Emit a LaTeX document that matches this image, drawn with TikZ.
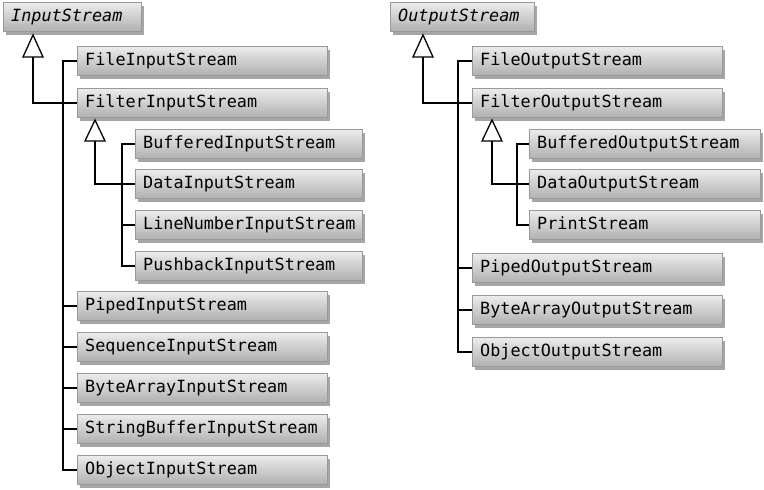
\documentclass[tikz,border=0pt]{standalone}
\usepackage{fontspec}
\setmonofont{DejaVu Sans Mono}
\usetikzlibrary{shadows}
\begin{document}
\begin{tikzpicture}[x=1pt,y=-1pt,
  cls/.style={draw=gray!80, top color=gray!15, bottom color=gray!62,
    minimum height=29pt, inner xsep=8pt, inner ysep=0pt, anchor=west, align=left,
    font=\ttfamily\fontsize{16.8}{18}\selectfont, text height=12pt, text depth=3pt,
    drop shadow={shadow xshift=3pt, shadow yshift=-3.5pt, fill=gray!70, opacity=1}},
  absw/.style={font=\ttfamily\itshape\fontsize{16.8}{18}\selectfont},
  wout/.style={text width=234pt},
  winI/.style={text width=211pt},
  winO/.style={text width=215pt},
  link/.style={line width=1.3pt},
  tri/.style={line width=1.3pt, fill=white, line join=miter}
]
\fill[white] (0,0) rectangle (764,490);
\useasboundingbox (0,0) rectangle (764,490);

% ---------- Input side ----------
\node[cls,absw,text width=122pt] (IS) at (3,17) {InputStream};
\node[cls,wout] (fileI)   at (77,61)  {FileInputStream};
\node[cls,wout] (filterI) at (77,103) {FilterInputStream};
\node[cls,winI] (bufI)    at (135,144) {BufferedInputStream};
\node[cls,winI] (dataI)   at (135,184) {DataInputStream};
\node[cls,winI] (lineI)   at (135,225) {LineNumberInputStream};
\node[cls,winI] (pushI)   at (135,266) {PushbackInputStream};
\node[cls,wout] (pipedI)  at (77,306) {PipedInputStream};
\node[cls,wout] (seqI)    at (77,347) {SequenceInputStream};
\node[cls,wout] (byteI)   at (77,388) {ByteArrayInputStream};
\node[cls,wout] (sbI)     at (77,429) {StringBufferInputStream};
\node[cls,wout] (objI)    at (77,470) {ObjectInputStream};

\coordinate (vI) at (63,0);
\coordinate (vIi) at (122,0);
\coordinate (tipI) at (33,35);
\coordinate (baseI) at (33,57);
\coordinate (tipIi) at (95,120);
\coordinate (baseIi) at (95,141);

\draw[link] (fileI.west) -| (vI |- objI.west) -- (objI.west);
\foreach \n in {pipedI,seqI,byteI,sbI} \draw[link] (\n.west -| vI) -- (\n.west);
\draw[link] (baseI) |- (filterI.west);
\draw[tri] (tipI) -- ++(-10,22) -- ++(20,0) -- cycle;

\draw[link] (bufI.west) -| (vIi |- pushI.west) -- (pushI.west);
\draw[link] (lineI.west -| vIi) -- (lineI.west);
\draw[link] (baseIi) |- (dataI.west);
\draw[tri] (tipIi) -- ++(-10,21) -- ++(20,0) -- cycle;

% ---------- Output side ----------
\node[cls,absw,text width=128pt] (OS) at (390,17) {OutputStream};
\node[cls,wout] (fileO)   at (472,61)  {FileOutputStream};
\node[cls,wout] (filterO) at (472,103) {FilterOutputStream};
\node[cls,winO] (bufO)    at (529,144) {BufferedOutputStream};
\node[cls,winO] (dataO)   at (529,184) {DataOutputStream};
\node[cls,winO] (printO)  at (529,225) {PrintStream};
\node[cls,wout] (pipedO)  at (472,268) {PipedOutputStream};
\node[cls,wout] (byteO)   at (472,310) {ByteArrayOutputStream};
\node[cls,wout] (objO)    at (472,352) {ObjectOutputStream};

\coordinate (vO) at (458,0);
\coordinate (vOi) at (517,0);
\coordinate (tipO) at (423,35);
\coordinate (baseO) at (423,57);
\coordinate (tipOi) at (492,120);
\coordinate (baseOi) at (492,141);

\draw[link] (fileO.west) -| (vO |- objO.west) -- (objO.west);
\foreach \n in {pipedO,byteO} \draw[link] (\n.west -| vO) -- (\n.west);
\draw[link] (baseO) |- (filterO.west);
\draw[tri] (tipO) -- ++(-10,22) -- ++(20,0) -- cycle;

\draw[link] (bufO.west) -| (vOi |- printO.west) -- (printO.west);
\draw[link] (baseOi) |- (dataO.west);
\draw[tri] (tipOi) -- ++(-10,21) -- ++(20,0) -- cycle;
\end{tikzpicture}
\end{document}
